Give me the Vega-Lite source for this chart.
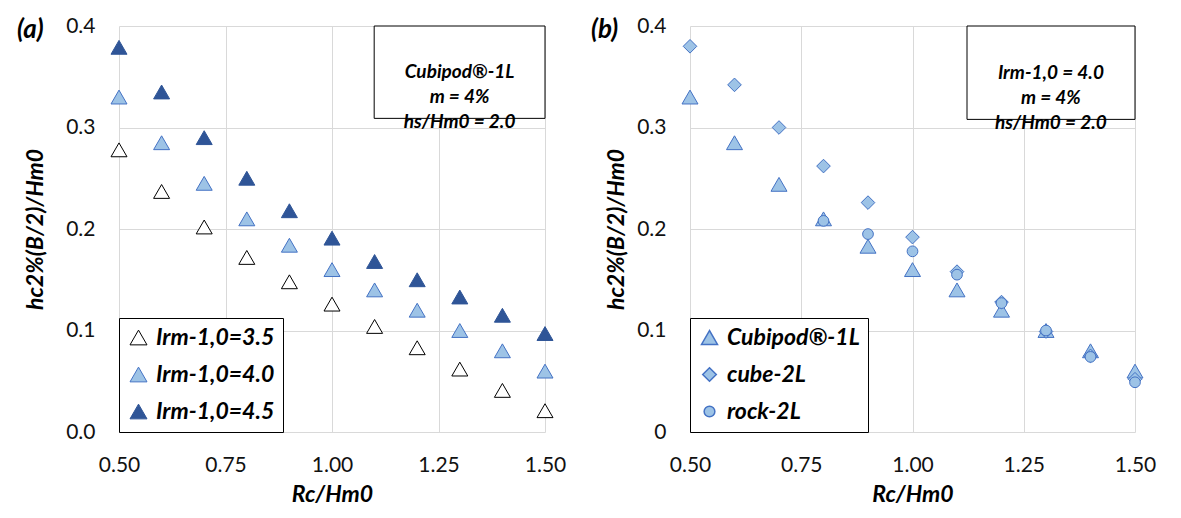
{
  "$schema": "https://vega.github.io/schema/vega-lite/v6.json",
  "padding": {"left": 17, "top": 15, "right": 5, "bottom": 5},
  "spacing": 25,
  "background": "white",
  "resolve": {
    "scale": {"fill": "independent", "stroke": "independent", "shape": "independent", "size": "independent"},
    "legend": {"fill": "independent", "stroke": "independent", "shape": "independent", "size": "independent"}
  },
  "datasets": {
    "left": [
      {"rc": 0.5, "h": 0.278, "series": "Irm-1,0=3.5"},
      {"rc": 0.6, "h": 0.237, "series": "Irm-1,0=3.5"},
      {"rc": 0.7, "h": 0.202, "series": "Irm-1,0=3.5"},
      {"rc": 0.8, "h": 0.172, "series": "Irm-1,0=3.5"},
      {"rc": 0.9, "h": 0.148, "series": "Irm-1,0=3.5"},
      {"rc": 1.0, "h": 0.126, "series": "Irm-1,0=3.5"},
      {"rc": 1.1, "h": 0.104, "series": "Irm-1,0=3.5"},
      {"rc": 1.2, "h": 0.083, "series": "Irm-1,0=3.5"},
      {"rc": 1.3, "h": 0.062, "series": "Irm-1,0=3.5"},
      {"rc": 1.4, "h": 0.041, "series": "Irm-1,0=3.5"},
      {"rc": 1.5, "h": 0.021, "series": "Irm-1,0=3.5"},
      {"rc": 0.5, "h": 0.330, "series": "Irm-1,0=4.0"},
      {"rc": 0.6, "h": 0.285, "series": "Irm-1,0=4.0"},
      {"rc": 0.7, "h": 0.245, "series": "Irm-1,0=4.0"},
      {"rc": 0.8, "h": 0.210, "series": "Irm-1,0=4.0"},
      {"rc": 0.9, "h": 0.184, "series": "Irm-1,0=4.0"},
      {"rc": 1.0, "h": 0.160, "series": "Irm-1,0=4.0"},
      {"rc": 1.1, "h": 0.140, "series": "Irm-1,0=4.0"},
      {"rc": 1.2, "h": 0.120, "series": "Irm-1,0=4.0"},
      {"rc": 1.3, "h": 0.100, "series": "Irm-1,0=4.0"},
      {"rc": 1.4, "h": 0.080, "series": "Irm-1,0=4.0"},
      {"rc": 1.5, "h": 0.060, "series": "Irm-1,0=4.0"},
      {"rc": 0.5, "h": 0.379, "series": "Irm-1,0=4.5"},
      {"rc": 0.6, "h": 0.335, "series": "Irm-1,0=4.5"},
      {"rc": 0.7, "h": 0.290, "series": "Irm-1,0=4.5"},
      {"rc": 0.8, "h": 0.250, "series": "Irm-1,0=4.5"},
      {"rc": 0.9, "h": 0.218, "series": "Irm-1,0=4.5"},
      {"rc": 1.0, "h": 0.191, "series": "Irm-1,0=4.5"},
      {"rc": 1.1, "h": 0.168, "series": "Irm-1,0=4.5"},
      {"rc": 1.2, "h": 0.150, "series": "Irm-1,0=4.5"},
      {"rc": 1.3, "h": 0.133, "series": "Irm-1,0=4.5"},
      {"rc": 1.4, "h": 0.115, "series": "Irm-1,0=4.5"},
      {"rc": 1.5, "h": 0.097, "series": "Irm-1,0=4.5"}
    ],
    "right": [
      {"rc": 0.5, "h": 0.330, "series": "Cubipod®-1L"},
      {"rc": 0.6, "h": 0.285, "series": "Cubipod®-1L"},
      {"rc": 0.7, "h": 0.244, "series": "Cubipod®-1L"},
      {"rc": 0.8, "h": 0.210, "series": "Cubipod®-1L"},
      {"rc": 0.9, "h": 0.183, "series": "Cubipod®-1L"},
      {"rc": 1.0, "h": 0.160, "series": "Cubipod®-1L"},
      {"rc": 1.1, "h": 0.140, "series": "Cubipod®-1L"},
      {"rc": 1.2, "h": 0.120, "series": "Cubipod®-1L"},
      {"rc": 1.3, "h": 0.100, "series": "Cubipod®-1L"},
      {"rc": 1.4, "h": 0.080, "series": "Cubipod®-1L"},
      {"rc": 1.5, "h": 0.060, "series": "Cubipod®-1L"},
      {"rc": 0.5, "h": 0.380, "series": "cube-2L"},
      {"rc": 0.6, "h": 0.342, "series": "cube-2L"},
      {"rc": 0.7, "h": 0.300, "series": "cube-2L"},
      {"rc": 0.8, "h": 0.262, "series": "cube-2L"},
      {"rc": 0.9, "h": 0.226, "series": "cube-2L"},
      {"rc": 1.0, "h": 0.192, "series": "cube-2L"},
      {"rc": 1.1, "h": 0.158, "series": "cube-2L"},
      {"rc": 1.2, "h": 0.128, "series": "cube-2L"},
      {"rc": 1.3, "h": 0.099, "series": "cube-2L"},
      {"rc": 1.4, "h": 0.075, "series": "cube-2L"},
      {"rc": 1.5, "h": 0.052, "series": "cube-2L"},
      {"rc": 0.8, "h": 0.208, "series": "rock-2L"},
      {"rc": 0.9, "h": 0.195, "series": "rock-2L"},
      {"rc": 1.0, "h": 0.178, "series": "rock-2L"},
      {"rc": 1.1, "h": 0.155, "series": "rock-2L"},
      {"rc": 1.2, "h": 0.127, "series": "rock-2L"},
      {"rc": 1.3, "h": 0.100, "series": "rock-2L"},
      {"rc": 1.4, "h": 0.074, "series": "rock-2L"},
      {"rc": 1.5, "h": 0.049, "series": "rock-2L"}
    ],
    "one": [{"k": 1}]
  },
  "config": {
    "font": "Lato",
    "view": {"stroke": null},
    "axis": {
      "grid": true, "gridColor": "#D9D9D9", "gridWidth": 1,
      "domain": false, "ticks": false,
      "labelFont": "Lato", "labelFontSize": 21, "labelColor": "#111111",
      "titleFont": "Lato", "titleFontSize": 23, "titleFontWeight": "bold", "titleFontStyle": "italic", "titleColor": "black"
    },
    "legend": {
      "orient": "bottom-left", "offset": 0, "strokeColor": "black", "fillColor": "white",
      "padding": 8, "labelFont": "Lato", "labelFontSize": 23, "labelFontWeight": "bold", "labelFontStyle": "italic",
      "labelColor": "black", "rowPadding": 13, "labelLimit": 400, "labelOffset": 6, "cornerRadius": 0
    }
  },
  "hconcat": [
    {
      "width": 426, "height": 406,
      "layer": [
        {
          "data": {"name": "left"},
          "mark": {"type": "point", "shape": "triangle-up", "filled": true, "size": 256, "strokeWidth": 1, "opacity": 1},
          "encoding": {
            "x": {"field": "rc", "type": "quantitative", "scale": {"domain": [0.5, 1.5], "nice": false, "zero": false},
                  "axis": {"values": [0.5, 0.75, 1.0, 1.25, 1.5], "format": ".2f", "labelPadding": 22, "titlePadding": 8, "labelFlush": false},
                  "title": "Rc/Hm0"},
            "y": {"field": "h", "type": "quantitative", "scale": {"domain": [0, 0.4], "nice": false, "zero": true},
                  "axis": {"values": [0, 0.1, 0.2, 0.3, 0.4], "format": ".1f", "labelPadding": 24, "titlePadding": 18, "labelFlush": false},
                  "title": "hc2%(B/2)/Hm0"},
            "fill": {"field": "series", "type": "nominal",
                     "scale": {"domain": ["Irm-1,0=3.5", "Irm-1,0=4.0", "Irm-1,0=4.5"], "range": ["white", "#9DC3E6", "#2F5597"]},
                     "legend": {"title": null, "symbolSize": 289, "symbolType": "triangle-up", "symbolStrokeWidth": 1}},
            "stroke": {"field": "series", "type": "nominal",
                       "scale": {"domain": ["Irm-1,0=3.5", "Irm-1,0=4.0", "Irm-1,0=4.5"], "range": ["black", "#4472C4", "#2F5597"]},
                       "legend": {"title": null, "symbolSize": 289, "symbolType": "triangle-up", "symbolStrokeWidth": 1}}
          }
        },
        {
          "data": {"name": "one"},
          "mark": {"type": "rect", "fill": "white", "stroke": "black", "strokeWidth": 1},
          "encoding": {"x": {"datum": 1.099}, "x2": {"datum": 1.5}, "y": {"datum": 0.4}, "y2": {"datum": 0.309}}
        },
        {
          "data": {"name": "one"},
          "mark": {"type": "text", "text": "Cubipod®-1L\nm = 4%\nhs/Hm0 = 2.0", "lineBreak": "\n", "lineHeight": 25,
                   "font": "Lato", "fontSize": 19, "fontWeight": "bold", "fontStyle": "italic", "align": "center", "baseline": "middle", "color": "black"},
          "encoding": {"x": {"datum": 1.2995}, "y": {"datum": 0.3545}}
        },
        {
          "data": {"name": "one"},
          "mark": {"type": "text", "text": "(a)", "font": "Lato", "fontSize": 26, "fontWeight": "bold", "fontStyle": "italic",
                   "align": "left", "baseline": "middle", "dx": -102, "dy": 4, "color": "black"},
          "encoding": {"x": {"datum": 0.5}, "y": {"datum": 0.4}}
        }
      ]
    },
    {
      "width": 445, "height": 406,
      "layer": [
        {
          "data": {"name": "right"},
          "mark": {"type": "point", "filled": true, "fill": "#9DC3E6", "stroke": "#4472C4", "strokeWidth": 1, "opacity": 1},
          "encoding": {
            "x": {"field": "rc", "type": "quantitative", "scale": {"domain": [0.5, 1.5], "nice": false, "zero": false},
                  "axis": {"values": [0.5, 0.75, 1.0, 1.25, 1.5], "format": ".2f", "labelPadding": 22, "titlePadding": 8, "labelFlush": false},
                  "title": "Rc/Hm0"},
            "y": {"field": "h", "type": "quantitative", "scale": {"domain": [0, 0.4], "nice": false, "zero": true},
                  "axis": {"values": [0, 0.1, 0.2, 0.3, 0.4], "labelExpr": "datum.value == 0 ? '0' : format(datum.value, '.1f')", "labelPadding": 24, "titlePadding": 8, "labelFlush": false},
                  "title": "hc2%(B/2)/Hm0"},
            "shape": {"field": "series", "type": "ordinal",
                      "scale": {"domain": ["Cubipod®-1L", "cube-2L", "rock-2L"], "range": ["triangle-up", "diamond", "circle"]},
                      "legend": {"title": null,
                                 "encode": {"symbols": {"update": {"fill": {"value": "#9DC3E6"}, "stroke": {"value": "#4472C4"}, "strokeWidth": {"value": 1}, "opacity": {"value": 1}}}}}},
            "size": {"field": "series", "type": "ordinal",
                     "scale": {"domain": ["Cubipod®-1L", "cube-2L", "rock-2L"], "range": [256, 115, 210]},
                     "legend": {"title": null,
                                "encode": {"symbols": {"update": {"fill": {"value": "#9DC3E6"}, "stroke": {"value": "#4472C4"}, "strokeWidth": {"value": 1}, "opacity": {"value": 1}}}}}}
          }
        },
        {
          "data": {"name": "one"},
          "mark": {"type": "rect", "fill": "white", "stroke": "black", "strokeWidth": 1},
          "encoding": {"x": {"datum": 1.1225}, "x2": {"datum": 1.5}, "y": {"datum": 0.4}, "y2": {"datum": 0.308}}
        },
        {
          "data": {"name": "one"},
          "mark": {"type": "text", "text": "Irm-1,0 = 4.0\nm = 4%\nhs/Hm0 = 2.0", "lineBreak": "\n", "lineHeight": 25,
                   "font": "Lato", "fontSize": 19, "fontWeight": "bold", "fontStyle": "italic", "align": "center", "baseline": "middle", "color": "black"},
          "encoding": {"x": {"datum": 1.311}, "y": {"datum": 0.354}}
        },
        {
          "data": {"name": "one"},
          "mark": {"type": "text", "text": "(b)", "font": "Lato", "fontSize": 26, "fontWeight": "bold", "fontStyle": "italic",
                   "align": "left", "baseline": "middle", "dx": -99, "dy": 4, "color": "black"},
          "encoding": {"x": {"datum": 0.5}, "y": {"datum": 0.4}}
        }
      ]
    }
  ]
}
